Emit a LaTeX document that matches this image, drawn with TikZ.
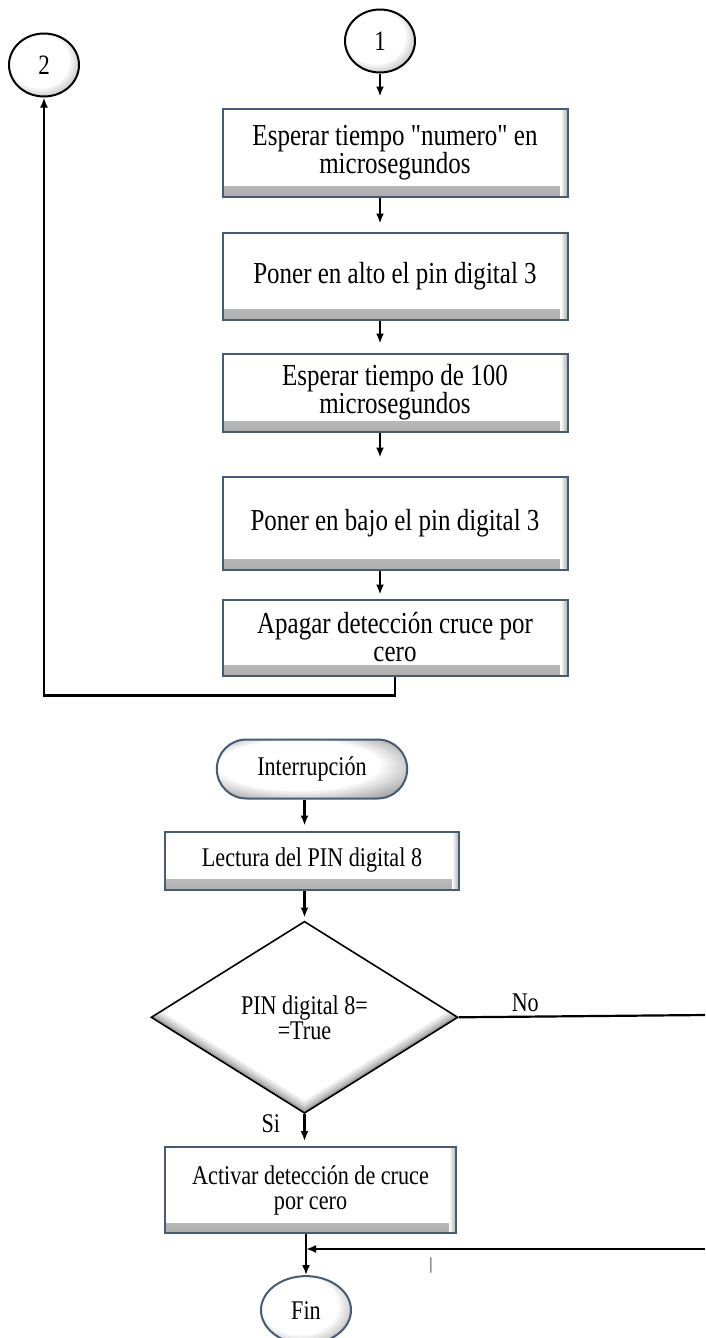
\documentclass[tikz,border=0pt]{standalone}
\usepackage{fontspec}
\setmainfont{Liberation Serif}[FakeStretch=0.82, Ligatures=TeXOff]
\usetikzlibrary{positioning, arrows.meta, shapes.geometric, shapes.misc}
\definecolor{boxedge}{RGB}{68,92,118}
\colorlet{rimgray}{black!45}
\pgfdeclareradialshading{rimshade}{\pgfpoint{-6bp}{6bp}}{color(0bp)=(white); color(21bp)=(white); color(36bp)=(rimgray); color(50bp)=(rimgray)}
\newcommand{\upfont}{\fontsize{30.5}{28}\selectfont}
\newcommand{\lowfont}{\fontsize{27}{25}\selectfont}
\tikzset{
    procbox/.style={draw=boxedge, line width=2pt, fill=white, minimum width=345pt, align=center, font=\upfont,
        path picture={
            \shade[top color=white, bottom color=black!32] ([yshift=10pt]path picture bounding box.south west) rectangle (path picture bounding box.south east);
            \shade[left color=white, right color=black!32] ([xshift=-7pt]path picture bounding box.north east) rectangle (path picture bounding box.south east);
        }},
    lowbox/.style={procbox, font=\lowfont},
    connector/.style={draw, line width=2pt, ellipse, shading=rimshade, minimum width=70pt, minimum height=63pt, inner sep=0pt, font=\fontsize{28}{28}\selectfont},
    terminal/.style={draw=boxedge, line width=2pt, rounded rectangle, shading=rimshade, minimum width=197pt, minimum height=59pt},
    endpoint/.style={draw=boxedge, line width=2pt, ellipse, shading=rimshade, minimum width=90pt, minimum height=68pt, inner sep=0pt},
    decision/.style={draw, line width=1.6pt, diamond, minimum width=307pt, minimum height=192pt, inner sep=0pt, align=center, fill=white,
        path picture={
            \fill[black!38] (path picture bounding box.south west) rectangle (path picture bounding box.north east);
            \foreach \s/\c in {3/26, 6/16, 9/8, 12/0}
                \fill[black!\c] ([yshift=\s pt]path picture bounding box.north) -- ([yshift=\s pt]path picture bounding box.east)
                    -- ([yshift=\s pt]path picture bounding box.south) -- ([yshift=\s pt]path picture bounding box.west) -- cycle;
        }},
    flow/.style={->, line width=2.2pt}
}

\begin{document}
\begin{tikzpicture}[x=1pt, y=-1pt, font=\lowfont, >={Latex[length=10pt, width=8pt]}]
  \useasboundingbox (0,0) rectangle (705,1338);
  % rutina de disparo
  \node(C1)[connector] at (380,41){1};
  \node(C2)[connector] at (44,65){2};
  \node(B1)[procbox, minimum height=88pt, below=34pt of C1, xshift=15pt]{Esperar tiempo "numero" en\\microsegundos};
  \node(B2)[procbox, minimum height=87pt, below=34pt of B1]{Poner en alto el pin digital 3};
  \node(B3)[procbox, minimum height=78pt, below=32pt of B2]{Esperar tiempo de 100\\microsegundos};
  \node(B4)[procbox, minimum height=93pt, below=43pt of B3]{Poner en bajo el pin digital 3};
  \node(B5)[procbox, minimum height=76pt, below=28pt of B4]{Apagar detección cruce por\\cero};
  \draw[flow, shorten >=11pt](C1.south)--(C1.south |- B1.north);
  \draw[flow, shorten >=8pt](B1.south -| C1)--(B2.north -| C1);
  \draw[flow, shorten >=9pt](B2.south -| C1)--(B3.north -| C1);
  \draw[flow, shorten >=18pt](B3.south -| C1)--(B4.north -| C1);
  \draw[flow, shorten >=4pt](B4.south -| C1)--(B5.north -| C1);
  \draw[flow](B5.south)--++(0,19)-|(C2.south);
  % interrupcion
  \node(T)[terminal] at (312,769){Interrupción};
  \node(L)[lowbox, minimum width=294pt, minimum height=58pt, below=31pt of T]{Lectura del PIN digital 8};
  \node(D)[decision, below=30pt of L, xshift=-7.5pt]{PIN digital 8=\\=True};
  \node(A)[lowbox, minimum width=291pt, minimum height=86pt, below=32pt of D, xshift=6pt]{Activar detección de cruce\\por cero};
  \node(F)[endpoint, below=41pt of A, xshift=-4.5pt]{Fin};
  \coordinate(noend) at (705,1015);
  \coordinate(back) at (705,1249);
  \node(bar)[font=\fontsize{17}{17}\selectfont] at (431,1265){|};
  \draw[flow, shorten >=5pt](T.south -| D)--(L.north -| D);
  \draw[flow, shorten >=3pt](L.south -| D)--(D.north);
  \draw[flow, shorten >=5pt](D.south)--node[pos=.3, left=20pt]{Si}(A.north -| D);
  \draw[flow](A.south -| F)--(F.north);
  \draw[line width=2.2pt](D.east)--node[pos=.27, above=0pt]{No}(noend);
  \draw[flow](back)--(back -| F.north);
\end{tikzpicture}
\end{document}
